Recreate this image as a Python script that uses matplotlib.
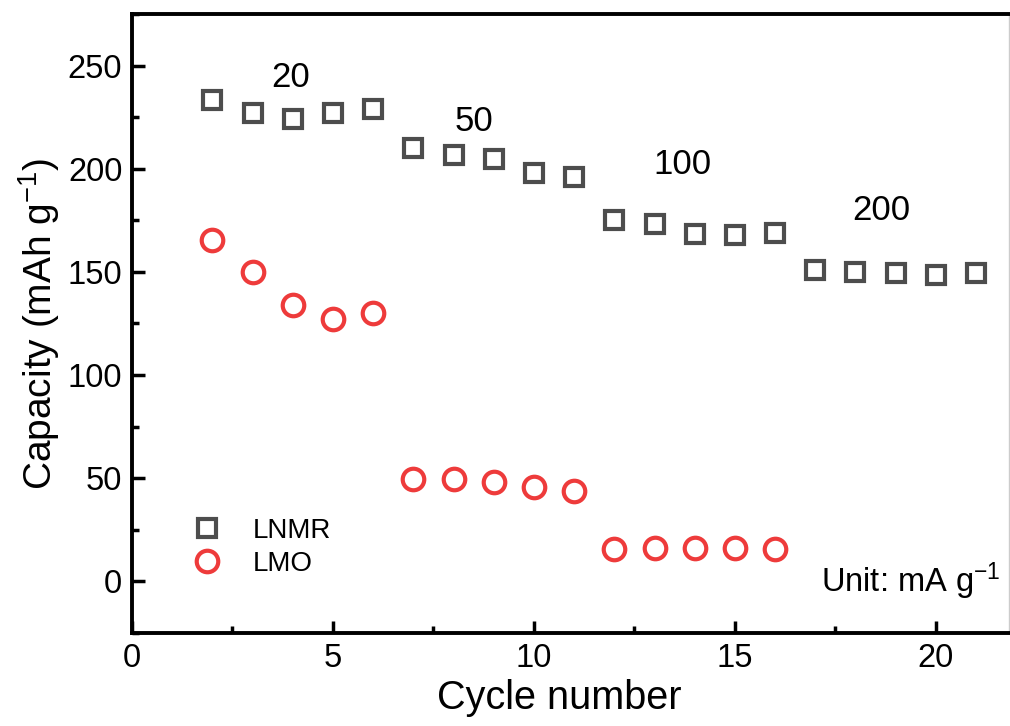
import matplotlib
matplotlib.use("Agg")
import matplotlib.pyplot as plt
from matplotlib.ticker import MultipleLocator

plt.rcParams['font.family'] = ['Liberation Sans', 'DejaVu Sans']
plt.rcParams['mathtext.fontset'] = 'custom'
plt.rcParams['mathtext.rm'] = 'Liberation Sans'
plt.rcParams['mathtext.it'] = 'Liberation Sans'

cycles_lnmr = [2, 3, 4, 5, 6, 7, 8, 9, 10, 11, 12, 13, 14, 15, 16, 17, 18, 19, 20, 21]
cap_lnmr = [233.5, 227, 224, 227, 229, 210, 206.5, 204.5, 198, 196,
            175, 173, 168.5, 168, 169, 150.7, 150, 149.7, 148.7, 149.7]
cycles_lmo = [2, 3, 4, 5, 6, 7, 8, 9, 10, 11, 12, 13, 14, 15, 16]
cap_lmo = [165.7, 150, 134, 127.4, 130.3, 49.4, 49.4, 48, 46, 44,
           15.5, 16, 16, 16, 15.5]

rate_labels = ["20", "50", "100", "200"]
rate_x = [3.95, 8.5, 13.7, 18.65]
rate_y = [244, 223, 202, 180]

fig = plt.figure(figsize=(10.10, 7.26), dpi=100)
ax = fig.add_axes([132/1010, 1 - 633/726, (1009 - 132)/1010, (633 - 14)/726])

ax.plot(cycles_lnmr, cap_lnmr, linestyle='none', marker='s', markersize=13,
        markerfacecolor='none', markeredgecolor='#4d4d4d', markeredgewidth=3.0,
        label='LNMR')
ax.plot(cycles_lmo, cap_lmo, linestyle='none', marker='o', markersize=15.5,
        markerfacecolor='none', markeredgecolor='#ee3b3b', markeredgewidth=3.0,
        label='LMO')

for t, x, y in zip(rate_labels, rate_x, rate_y):
    ax.text(x, y, t, fontsize=25, ha='center', va='center')

ax.text(0.99, 0.083, "Unit: mA g$^{\\mathrm{-1}}$", transform=ax.transAxes,
        fontsize=23.5, ha='right', va='center')

ax.set_xlim(0, 21.82)
ax.set_ylim(-25, 275)
ax.xaxis.set_major_locator(MultipleLocator(5))
ax.xaxis.set_minor_locator(MultipleLocator(2.5))
ax.yaxis.set_major_locator(MultipleLocator(50))
ax.yaxis.set_minor_locator(MultipleLocator(25))

ax.tick_params(which='major', direction='in', length=9, width=2.5,
               labelsize=23.5, top=False, right=False, pad=7)
ax.tick_params(which='minor', direction='in', length=5, width=2.5,
               top=False, right=False)
for s in ['left', 'bottom', 'top']:
    ax.spines[s].set_linewidth(2.8)
ax.spines['right'].set_linewidth(1.0)
ax.spines['right'].set_color('#cccccc')

ax.set_xlabel("Cycle number", fontsize=28.5, labelpad=0)
ax.xaxis.set_label_coords(0.487, -0.075)
ax.set_ylabel("Capacity (mAh g$^{\\mathrm{-1}}$)", fontsize=28, labelpad=4)

leg = ax.legend(loc='upper left', bbox_to_anchor=(0.038, 0.226), frameon=False,
                fontsize=20, handletextpad=1.05, labelspacing=0.25,
                handlelength=1.2)

fig.savefig("out.png", dpi=100)
